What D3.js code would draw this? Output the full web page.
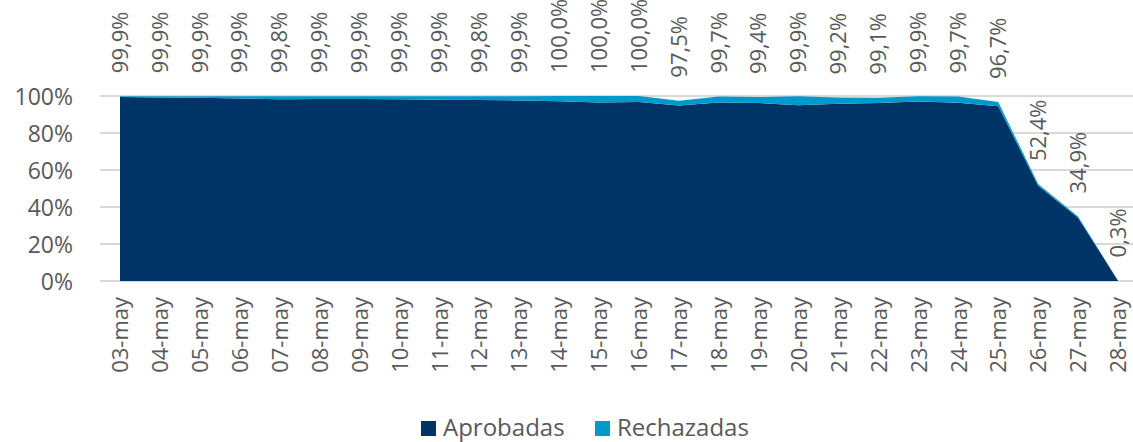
<!DOCTYPE html>
<html>
<head>
<meta charset="utf-8">
<script src="https://cdn.jsdelivr.net/npm/d3@7"></script>
<style>
body { margin:0; background:#fff; }
text { font-family:"Open Sans", sans-serif; fill:#595959; }
</style>
</head>
<body>
<svg id="chart"></svg>
<script>
// dias del eje x
var dias = ["03-may","04-may","05-may","06-may","07-may","08-may","09-may","10-may","11-may",
    "12-may","13-may","14-may","15-may","16-may","17-may","18-may","19-may","20-may","21-may",
    "22-may","23-may","24-may","25-may","26-may","27-may","28-may"];

// % aprobadas (estimado del grafico)
var aprobadas = [99.5,99.2,99.0,98.7,98.3,98.4,98.4,98.3,98.0,97.8,97.6,97.1,96.5,96.8,
    94.8,96.5,96.2,95.0,95.8,96.2,97.0,96.4,94.5,51.5,34.2,0.2];

// total (aprobadas + rechazadas) = etiqueta de datos
var totales = [99.9,99.9,99.9,99.9,99.8,99.9,99.9,99.9,99.9,99.8,99.9,100.0,100.0,100.0,
    97.5,99.7,99.4,99.9,99.2,99.1,99.9,99.7,96.7,52.4,34.9,0.3];

var rechazadas = totales.map(function(t,i){ return +(t - aprobadas[i]).toFixed(1); });

var yTicks = [0,20,40,60,80,100];
var series = ["Aprobadas","Rechazadas"];
var colores = {Aprobadas:"#003466", Rechazadas:"#0099CC"};

var width = 1133, height = 442;
var svg = d3.select("#chart").attr("width",width).attr("height",height);

var filas = dias.map(function(d,i){
    return {dia:d, Aprobadas:aprobadas[i], Rechazadas:rechazadas[i]};
});

var xScale = d3.scalePoint().domain(dias).range([120,1118]);
var yScale = d3.scaleLinear().domain([0,100]).range([281,96]);

// lineas de cuadricula
svg.append("g")
    .selectAll("line")
    .data(yTicks)
    .enter()
    .append("line")
    .attr("x1",100)
    .attr("x2",1133)
    .attr("y1",function(t){ return yScale(t); })
    .attr("y2",function(t){ return yScale(t); })
    .attr("stroke","#d9d9d9")
    .attr("stroke-width",2);

// areas apiladas
var stack = d3.stack().keys(series);
var capas = stack(filas);

var area = d3.area()
    .x(function(d){ return xScale(d.data.dia); })
    .y0(function(d){ return yScale(d[0]); })
    .y1(function(d){ return yScale(d[1]); });

svg.append("g")
    .selectAll("path")
    .data(capas)
    .enter()
    .append("path")
    .attr("d",area)
    .attr("fill",function(c){ return colores[c.key]; });

// eje y
var yAxis = d3.axisLeft(yScale)
    .tickValues(yTicks)
    .tickSize(0)
    .tickPadding(0)
    .tickFormat(function(t){ return t + "%"; });

svg.append("g")
    .attr("transform","translate(73,0)")
    .call(yAxis)
    .call(function(g){ g.select(".domain").remove(); })
    .selectAll("text")
    .attr("font-family","'Open Sans', sans-serif")
    .attr("font-size",23)
    .attr("fill","#595959")
    .attr("dy","0.35em");

// eje x
var xAxis = d3.axisBottom(xScale).tickSize(0).tickPadding(0);

svg.append("g")
    .attr("transform","translate(0,281)")
    .call(xAxis)
    .call(function(g){ g.select(".domain").remove(); })
    .selectAll("text")
    .attr("font-family","'Open Sans', sans-serif")
    .attr("font-size",22)
    .attr("fill","#595959")
    .attr("text-anchor","end")
    .attr("dy","0.35em")
    .attr("transform","translate(0,16) rotate(-90)")
    .attr("x",0)
    .attr("y",0);

// etiquetas de datos
svg.append("g")
    .selectAll("text")
    .data(filas)
    .enter()
    .append("text")
    .attr("transform",function(d,i){
        return "translate(" + xScale(d.dia) + "," + (yScale(totales[i]) - 23) + ") rotate(-90)";
    })
    .attr("text-anchor","start")
    .attr("dy","0.35em")
    .attr("font-size",22)
    .text(function(d,i){ return totales[i].toFixed(1).replace(".",",") + "%"; });

// leyenda
var leyenda = svg.append("g");
var posLeyenda = [421,595];
series.forEach(function(s,i){
    leyenda.append("rect")
        .attr("x",posLeyenda[i])
        .attr("y",421)
        .attr("width",15)
        .attr("height",15)
        .attr("fill",colores[s]);
    leyenda.append("text")
        .attr("x",posLeyenda[i] + 22)
        .attr("y",428)
        .attr("dy","0.35em")
        .attr("font-size",24)
        .text(s);
});
</script>
</body>
</html>
